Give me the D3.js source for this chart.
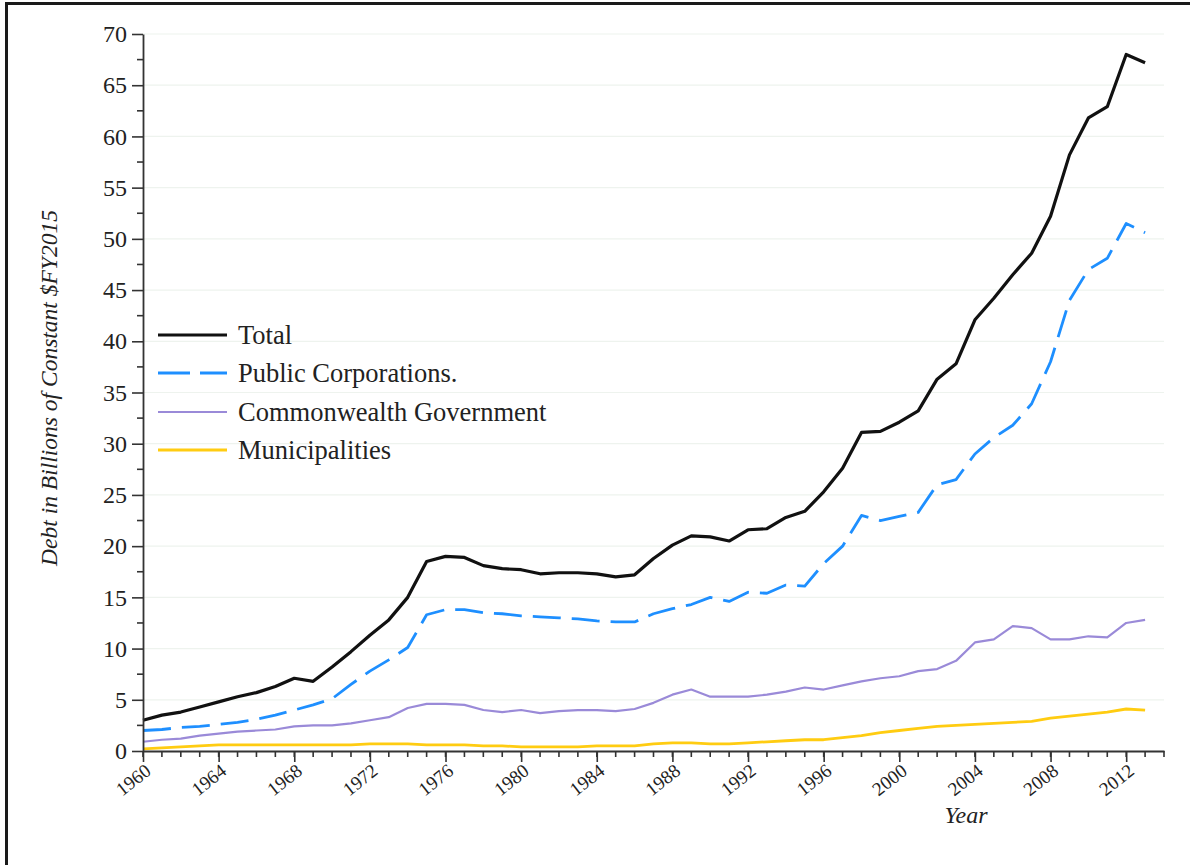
<!DOCTYPE html>
<html>
<head>
<meta charset="utf-8">
<script src="https://cdn.jsdelivr.net/npm/d3@7"></script>
<style>
  html, body { margin: 0; padding: 0; background: #fff; }
  svg { display: block; }
  text { font-family: "Liberation Serif", "DejaVu Serif", serif; fill: #222; }
</style>
</head>
<body>
<svg id="chart" width="1190" height="865"></svg>
<script>
const years = d3.range(1960, 2014);

const total = [3.0,3.5,3.8,4.3,4.8,5.3,5.7,6.3,7.1,6.8,
  8.2,9.7,11.3,12.8,15.0,18.5,19.0,18.9,18.1,17.8,
  17.7,17.3,17.4,17.4,17.3,17.0,17.2,18.8,20.1,21.0,
  20.9,20.5,21.6,21.7,22.8,23.4,25.3,27.6,31.1,31.2,
  32.1,33.2,36.3,37.8,42.1,44.2,46.5,48.6,52.2,58.2,
  61.8,62.9,68.0,67.2];

const publicCorps = [2.0,2.1,2.3,2.4,2.6,2.8,3.1,3.5,4.0,4.5,
  5.1,6.5,7.8,8.9,10.1,13.3,13.8,13.8,13.5,13.4,
  13.2,13.1,13.0,12.9,12.7,12.6,12.6,13.4,13.9,14.3,
  15.0,14.6,15.5,15.4,16.2,16.1,18.3,20.0,23.0,22.5,
  22.9,23.3,26.0,26.5,29.0,30.6,31.8,33.9,38.0,44.0,
  47.0,48.1,51.5,50.6];

const commonwealth = [0.9,1.1,1.2,1.5,1.7,1.9,2.0,2.1,2.4,2.5,
  2.5,2.7,3.0,3.3,4.2,4.6,4.6,4.5,4.0,3.8,
  4.0,3.7,3.9,4.0,4.0,3.9,4.1,4.7,5.5,6.0,
  5.3,5.3,5.3,5.5,5.8,6.2,6.0,6.4,6.8,7.1,
  7.3,7.8,8.0,8.8,10.6,10.9,12.2,12.0,10.9,10.9,
  11.2,11.1,12.5,12.8];

const municipalities = [0.2,0.3,0.4,0.5,0.6,0.6,0.6,0.6,0.6,0.6,
  0.6,0.6,0.7,0.7,0.7,0.6,0.6,0.6,0.5,0.5,
  0.4,0.4,0.4,0.4,0.5,0.5,0.5,0.7,0.8,0.8,
  0.7,0.7,0.8,0.9,1.0,1.1,1.1,1.3,1.5,1.8,
  2.0,2.2,2.4,2.5,2.6,2.7,2.8,2.9,3.2,3.4,
  3.6,3.8,4.1,4.0];

const seriesNames = ["Total", "Public Corporations.", "Commonwealth Government", "Municipalities"];
const seriesValues = [total, publicCorps, commonwealth, municipalities];

const yMajorTicks = d3.range(0, 71, 5);
const yMinorTicks = d3.range(2.5, 70, 5);
const xMajorTicks = d3.range(1960, 2013, 4);
const xMinorTicks = d3.range(1960, 2015, 1);

const styles = [
  { color: "#111111", width: 3.2, dash: null },
  { color: "#1e8fff", width: 2.8, dash: "28,11" },
  { color: "#9a8ad8", width: 2.2, dash: null },
  { color: "#ffcc11", width: 2.8, dash: null }
];

const svg = d3.select("#chart");

// frame
svg.append("path")
  .attr("d", "M6.5,865 L6.5,3.5 L1190,3.5")
  .attr("fill", "none").attr("stroke", "#1a1a1a").attr("stroke-width", 3);

const x = d3.scaleLinear().domain([1960, 2014]).range([143, 1164]);
const y = d3.scaleLinear().domain([0, 70]).range([751, 34]);

// grid
svg.append("g").selectAll("line").data(yMajorTicks.filter(d => d > 0)).join("line")
  .attr("x1", x(1960)).attr("x2", x(2014))
  .attr("y1", d => y(d)).attr("y2", d => y(d))
  .attr("stroke", "#eef3ee").attr("stroke-width", 1.2);

// lines
const line = d3.line().x((d, i) => x(years[i])).y(d => y(d));
[3, 2, 1, 0].forEach(k => {
  svg.append("path")
    .datum(seriesValues[k])
    .attr("d", line)
    .attr("fill", "none")
    .attr("stroke", styles[k].color)
    .attr("stroke-width", styles[k].width)
    .attr("stroke-linejoin", "round")
    .attr("stroke-dasharray", styles[k].dash);
});

// y axis
const yAxis = svg.append("g").attr("transform", `translate(${x(1960)},0)`)
  .call(d3.axisLeft(y).tickValues(yMajorTicks).tickSize(11).tickSizeOuter(0).tickPadding(5));
yAxis.selectAll("text").style("font-size", "24px").attr("fill", "#333");
yAxis.append("g").selectAll("line").data(yMinorTicks).join("line")
  .attr("x1", -6).attr("x2", 0).attr("y1", d => y(d)).attr("y2", d => y(d))
  .attr("stroke", "#333").attr("stroke-width", 1.6);

// x axis
const xAxis = svg.append("g").attr("transform", `translate(0,${y(0)})`)
  .call(d3.axisBottom(x).tickValues(xMajorTicks).tickFormat(d3.format("d")).tickSize(11).tickSizeOuter(0));
xAxis.selectAll(".tick text")
  .style("font-size", "19px").attr("fill", "#333")
  .attr("text-anchor", "end")
  .attr("dy", "0.35em")
  .attr("transform", "translate(-4,6) rotate(-38)");
xAxis.append("g").selectAll("line").data(xMinorTicks).join("line")
  .attr("x1", d => x(d)).attr("x2", d => x(d)).attr("y1", 0).attr("y2", 6)
  .attr("stroke", "#333").attr("stroke-width", 1.6);

[xAxis, yAxis].forEach(a => {
  a.select(".domain").attr("stroke", "#333").attr("stroke-width", 1.8);
  a.selectAll(".tick line").attr("stroke", "#333").attr("stroke-width", 1.6);
});

// axis titles
svg.append("text")
  .attr("transform", "translate(57,388) rotate(-90)")
  .attr("text-anchor", "middle")
  .style("font-size", "23.5px").style("font-style", "italic").attr("fill", "#333")
  .text("Debt in Billions of Constant $FY2015");

svg.append("text")
  .attr("x", 966).attr("y", 823)
  .attr("text-anchor", "middle")
  .style("font-size", "24px").style("font-style", "italic").attr("fill", "#333")
  .text("Year");

// legend
const legend = svg.append("g");
const rowY = [335, 373, 412, 450];
seriesNames.forEach((name, i) => {
  legend.append("line")
    .attr("x1", 158).attr("x2", 227).attr("y1", rowY[i]).attr("y2", rowY[i])
    .attr("stroke", styles[i].color).attr("stroke-width", styles[i].width)
    .attr("stroke-dasharray", styles[i].dash ? "32,10" : null);
  legend.append("text")
    .attr("x", 238).attr("y", rowY[i]).attr("dy", "0.35em")
    .style("font-size", "26.5px").attr("fill", "#222")
    .text(name);
});
</script>
</body>
</html>
